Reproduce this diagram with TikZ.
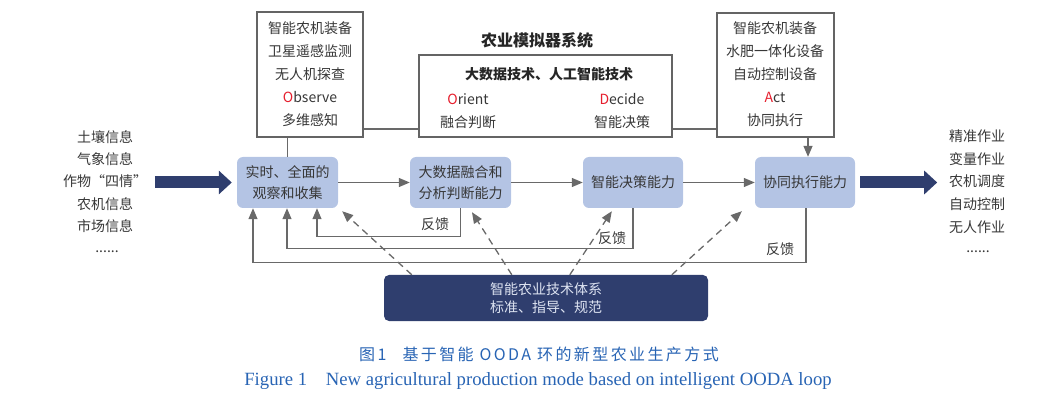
\documentclass[tikz,border=0pt]{standalone}
\usepackage{fontspec}
\setmainfont{Noto Sans CJK SC}
\newfontfamily\capen{Liberation Serif}
\newfontfamily\capcn{Noto Sans CJK SC}[LetterSpace=15]
\usetikzlibrary{arrows.meta,calc}
\definecolor{boxblue}{RGB}{180,196,228}
\definecolor{navy}{RGB}{47,62,110}
\definecolor{linegray}{RGB}{105,105,105}
\definecolor{framegray}{RGB}{100,100,100}
\definecolor{txtgray}{RGB}{55,55,55}
\definecolor{oodared}{RGB}{230,30,45}
\definecolor{lighttxt}{RGB}{222,228,242}
\definecolor{capblue}{RGB}{40,100,180}
\newcommand\fsz[2]{\fontsize{#1}{#2}\selectfont}
\begin{document}
\begin{tikzpicture}[x=1pt,y=-1pt,
  tbox/.style={draw=framegray, line width=1.2pt, fill=white, inner sep=0pt},
  capbox/.style={fill=boxblue, rounded corners=6pt, inner sep=0pt, align=center, text=txtgray, font=\fsz{14}{21}},
  lbl/.style={inner sep=0pt, text=txtgray, font=\fsz{14}{17}, text height=12.3pt, text depth=1.7pt},
  dots/.style={inner sep=0pt, text=txtgray, font=\fsz{14}{17}},
  conn/.style={draw=linegray, line width=1.3pt, -{Triangle[length=11pt,width=9pt]}},
  plain/.style={draw=linegray, line width=1.3pt},
  dconn/.style={conn, dash pattern=on 7pt off 5pt},
  big/.style={draw=navy, line width=12pt, -{Triangle[length=13pt,width=23pt]}}
]
\useasboundingbox (0,0) rectangle (1048,411);

% top boxes
\node[tbox, minimum width=106pt, minimum height=125pt] (obs) at (310,74.5) {};
\node[tbox, minimum width=253pt, minimum height=82pt] (mid) at (545.5,96) {};
\node[tbox, minimum width=117pt, minimum height=124pt] (act) at (775.5,75) {};

\foreach \t [count=\i] in {智能农机装备,卫星遥感监测,无人机探查,{\textcolor{oodared}{O}bserve},多维感知}
  \node[lbl] (ob\i) at (310,5+23*\i) {\t};
\foreach \t [count=\i] in {智能农机装备,水肥一体化设备,自动控制设备,{\textcolor{oodared}{A}ct},协同执行}
  \node[lbl] (ac\i) at (775,5+23*\i) {\t};

\node[inner sep=0pt, font=\fsz{16}{18}\bfseries, text=black!85] (title) at (537,40) {农业模拟器系统};
\node[lbl, font=\fsz{14}{17}\bfseries, text=black!85] (midt) at (549,74) {大数据技术、人工智能技术};
\node[lbl] (ori) at (468,99) {\textcolor{oodared}{O}rient};
\node[lbl] (orc) at (468,122) {融合判断};
\node[lbl] (dec) at (622,99) {\textcolor{oodared}{D}ecide};
\node[lbl] (dcc) at (622,122) {智能决策};

% capability boxes
\node[capbox, minimum width=101pt, minimum height=51pt] (b1) at (287.5,182.5) {实时、全面的\\观察和收集};
\node[capbox, minimum width=101pt, minimum height=51pt] (b2) at (460.5,182.5) {大数据融合和\\分析判断能力};
\node[capbox, minimum width=100pt, minimum height=51pt] (b3) at (633,182.5) {智能决策能力};
\node[capbox, minimum width=100pt, minimum height=51pt] (b4) at (805,182.5) {协同执行能力};

% bottom box
\node[fill=navy, rounded corners=5pt, minimum width=324pt, minimum height=46pt, inner sep=0pt,
      align=center, text=lighttxt, font=\fsz{14}{18}] (bot) at (546,298) {智能农业技术体系\\标准、指导、规范};

% inputs and outputs
\foreach \t [count=\i] in {土壤信息,气象信息,作物“四情”,农机信息,市场信息}
  \node[lbl] (in\i) at (105,114.5+22.4*\i) {\t};
\node[dots] (in6) at (107,252) {......};
\foreach \t [count=\i] in {精准作业,变量作业,农机调度,自动控制,无人作业}
  \node[lbl] (out\i) at (977,113.5+22.7*\i) {\t};
\node[dots] (out6) at (978,252) {......};

% connectors top
\draw[plain] (b1.north |- obs.south) -- (b1.north);
\draw[plain] (obs.east |- 0,129) -- (mid.west |- 0,129);
\draw[plain] (mid.east |- 0,129) -- (act.west |- 0,129);
\coordinate (ad) at ($(b4.north)+(3,0)$);
\draw[conn] (ad |- act.south) -- (ad);

% main chain
\draw[conn] (b1.east) -- (b2.west);
\draw[conn] (b2.east) -- (b3.west);
\draw[conn] (b3.east) -- (b4.west);

% big arrows
\draw[big] ($(b1.west)+(-82,0)$) -- ($(b1.west)+(-5,0)$);
\draw[big] ($(b4.east)+(5,0)$) -- ($(b4.east)+(82,0)$);

% feedback
\coordinate (f1) at ($(b1.south)+(29.5,0)$);
\coordinate (f2) at ($(b1.south)+(-0.5,0)$);
\coordinate (f3) at ($(b1.south)+(-34.5,0)$);
\draw[conn] (b2.south) -- ++(0,28) -| (f1);
\draw[conn] (b3.south) -- ++(0,40) -| (f2);
\coordinate (b4s) at ($(b4.south)+(1,0)$);
\draw[conn] (b4s) -- ++(0,54) -| (f3);
\node[lbl] (fb1) at (435,224) {反馈};
\node[lbl] (fb2) at (612,238) {反馈};
\node[lbl] (fb3) at (780,249) {反馈};

% dashed support arrows
\draw[dconn] ($(bot.north west)+(28,0)$) -- ($(b1.south east)+(4,3)$);
\draw[dconn] ($(bot.north west)+(128,0)$) -- ($(b2.south)+(11.5,4)$);
\draw[dconn] ($(bot.north west)+(186,0)$) -- ($(b3.south west)+(29,3)$);
\draw[dconn] ($(bot.north west)+(288,0)$) -- ($(b4.south west)+(-13,3)$);

% captions
\node[inner sep=0pt, text=capblue, font=\capcn\fsz{16}{18}] (capcn) at (539,354) {图1\hspace{1em}基于智能 OODA 环的新型农业生产方式};
\node[inner sep=0pt, text=capblue, font=\capen\fsz{18.7}{20}] (capen) at (538,381) {Figure 1\hspace{1em}New agricultural production mode based on intelligent OODA loop};
\end{tikzpicture}
\end{document}
